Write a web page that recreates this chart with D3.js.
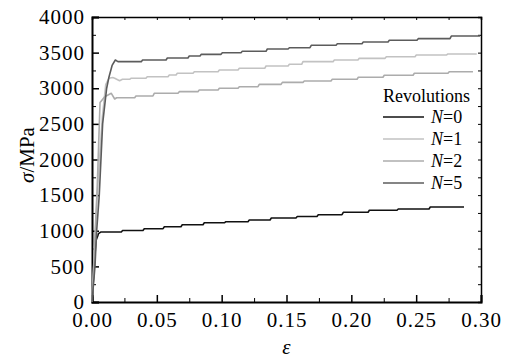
<!DOCTYPE html>
<html>
<head>
<meta charset="utf-8">
<script src="https://cdn.jsdelivr.net/npm/d3@7"></script>
<style>
  body { margin: 0; background: #fff; }
</style>
</head>
<body>
<div id="chart"></div>
<script>
// strain / stress points
const strainN0 = [0, 0.003, 0.0045, 0.005, 0.0067, 0.0226, 0.0236, 0.0393, 0.0403, 0.0548, 0.0558, 0.0686, 0.0696,
  0.0856, 0.0866, 0.1023, 0.1033, 0.1203, 0.1213, 0.1373, 0.1383, 0.1573, 0.1583, 0.1735, 0.1745, 0.1928, 0.1938,
  0.2129, 0.2139, 0.2352, 0.2362, 0.2599, 0.2609, 0.2869];
const stressN0 = [0, 860, 930, 960, 982, 982, 1004, 1004, 1029, 1029, 1057, 1057, 1085,
  1085, 1113, 1113, 1127, 1127, 1151, 1151, 1179, 1179, 1200, 1200, 1225, 1225, 1259,
  1259, 1287, 1287, 1305, 1305, 1333, 1333];

const strainN1 = [0, 0.004, 0.008, 0.0106, 0.013, 0.016, 0.0175, 0.0213, 0.0235, 0.029, 0.030, 0.0416, 0.0426,
  0.0586, 0.0596, 0.0648, 0.0658, 0.0779, 0.0789, 0.0972, 0.0982, 0.1126, 0.1136, 0.1332, 0.1342, 0.1512, 0.1522,
  0.1617, 0.1627, 0.1859, 0.1869, 0.2051, 0.2061, 0.226, 0.227, 0.2491, 0.2501, 0.2735, 0.2745, 0.2967];
const stressN1 = [0, 1500, 2600, 3050, 3140, 3150, 3140, 3106, 3126, 3126, 3140, 3140, 3162,
  3162, 3186, 3186, 3210, 3210, 3232, 3232, 3256, 3256, 3280, 3280, 3312, 3312, 3336,
  3336, 3373, 3373, 3396, 3396, 3420, 3420, 3443, 3443, 3467, 3467, 3481, 3481];

const strainN2 = [0, 0.004, 0.0062, 0.0098, 0.0149, 0.0175, 0.019, 0.0329, 0.0339, 0.047, 0.048, 0.0663, 0.0673,
  0.0817, 0.0827, 0.0972, 0.0982, 0.1126, 0.1136, 0.128, 0.129, 0.1458, 0.1468, 0.1627, 0.1637, 0.1843, 0.1853,
  0.2044, 0.2054, 0.2244, 0.2254, 0.2476, 0.2486, 0.2745, 0.2755, 0.2938];
const stressN2 = [0, 1600, 2800, 2881, 2929, 2849, 2867, 2867, 2891, 2891, 2929, 2929, 2952,
  2952, 2975, 2975, 2999, 2999, 3022, 3022, 3055, 3055, 3083, 3083, 3102, 3102, 3126,
  3126, 3154, 3154, 3182, 3182, 3210, 3210, 3232, 3232];

const strainN5 = [0, 0.0023, 0.0036, 0.0056, 0.0082, 0.0113, 0.013, 0.0155, 0.018, 0.020, 0.038, 0.039, 0.0571,
  0.0581, 0.074, 0.075, 0.0833, 0.0843, 0.0995, 0.1005, 0.1149, 0.1159, 0.1342, 0.1352, 0.1512, 0.1522, 0.1681,
  0.1691, 0.1882, 0.1892, 0.2082, 0.2092, 0.2283, 0.2293, 0.2506, 0.2516, 0.2761, 0.2771, 0.2992];
const stressN5 = [0, 500, 1000, 1500, 2500, 3000, 3150, 3320, 3396, 3373, 3373, 3396, 3396,
  3425, 3425, 3453, 3453, 3476, 3476, 3499, 3499, 3519, 3519, 3551, 3551, 3569, 3569,
  3603, 3603, 3625, 3625, 3649, 3649, 3673, 3673, 3696, 3696, 3733, 3733];

const seriesNames = ['N=0', 'N=1', 'N=2', 'N=5'];
const seriesColors = ['#111111', '#c2c2c2', '#acacac', '#5c5c5c'];
const xTicks = [0, 0.05, 0.10, 0.15, 0.20, 0.25, 0.30];
const yTicks = [0, 500, 1000, 1500, 2000, 2500, 3000, 3500, 4000];

const FONT = 'Liberation Serif';
const width = 512, height = 361;
const margin = { left: 92, right: 31, top: 17, bottom: 59 };

const svg = d3.select('#chart').append('svg')
  .attr('width', width)
  .attr('height', height);

const x = d3.scaleLinear().domain([0, 0.3]).range([margin.left, width - margin.right]);
const y = d3.scaleLinear().domain([0, 4000]).range([height - margin.bottom, margin.top]);

const minorX = d3.range(0.025, 0.3, 0.05);
const minorY = d3.range(250, 4000, 500);

// frame: top and right
svg.append('g')
  .attr('transform', `translate(0,${margin.top})`)
  .call(d3.axisTop(x).tickValues(xTicks.concat(minorX)).tickSize(-3).tickFormat(''))
  .call(g => g.select('.domain').attr('stroke-width', 1.5));
svg.append('g')
  .attr('transform', `translate(${width - margin.right},0)`)
  .call(d3.axisRight(y).tickValues(yTicks.concat(minorY)).tickSize(-3).tickFormat(''))
  .call(g => g.select('.domain').attr('stroke-width', 1.5));

// bottom axis
svg.append('g')
  .attr('transform', `translate(0,${height - margin.bottom})`)
  .call(d3.axisBottom(x).tickValues(minorX).tickSize(-4).tickFormat(''))
  .call(g => g.select('.domain').remove());
svg.append('g')
  .attr('transform', `translate(0,${height - margin.bottom})`)
  .call(d3.axisBottom(x).tickValues(xTicks).tickSize(-7).tickPadding(10).tickFormat(d3.format('.2f')))
  .call(g => g.select('.domain').attr('stroke-width', 2))
  .call(g => g.selectAll('line').attr('stroke-width', 1.5))
  .call(g => g.selectAll('text').attr('font-size', 21).attr('letter-spacing', 1));

// left axis
svg.append('g')
  .attr('transform', `translate(${margin.left},0)`)
  .call(d3.axisLeft(y).tickValues(minorY).tickSize(-4).tickFormat(''))
  .call(g => g.select('.domain').remove());
svg.append('g')
  .attr('transform', `translate(${margin.left},0)`)
  .call(d3.axisLeft(y).tickValues(yTicks).tickSize(-7).tickPadding(7).tickFormat(d3.format('d')))
  .call(g => g.select('.domain').attr('stroke-width', 2))
  .call(g => g.selectAll('line').attr('stroke-width', 1.5))
  .call(g => g.selectAll('text').attr('font-size', 21).attr('letter-spacing', 1));

// axis titles
const yTitle = svg.append('text')
  .attr('transform', 'translate(34,155) rotate(-90)')
  .attr('text-anchor', 'middle')
  .attr('font-size', 21);
yTitle.append('tspan').attr('font-style', 'italic').text('σ');
yTitle.append('tspan').text('/MPa');

svg.append('text')
  .attr('x', (x(0) + x(0.3)) / 2)
  .attr('y', 354)
  .attr('text-anchor', 'middle')
  .attr('font-size', 21)
  .attr('font-style', 'italic')
  .text('ε');

// curves
const series = [
  d3.zip(strainN0, stressN0),
  d3.zip(strainN1, stressN1),
  d3.zip(strainN2, stressN2),
  d3.zip(strainN5, stressN5)
];

const line = d3.line().x(d => x(d[0])).y(d => y(d[1]));

svg.selectAll('.curve')
  .data(series)
  .enter().append('path')
  .attr('class', 'curve')
  .attr('fill', 'none')
  .attr('stroke', (d, i) => seriesColors[i])
  .attr('stroke-width', 1.6)
  .attr('stroke-linejoin', 'round')
  .attr('d', line);

// legend
const legend = svg.append('g');
legend.append('text')
  .attr('x', 383)
  .attr('y', 102)
  .attr('font-size', 18)
  .text('Revolutions');

const item = legend.selectAll('.item')
  .data(seriesNames)
  .enter().append('g')
  .attr('class', 'item')
  .attr('transform', (d, i) => `translate(0,${117 + i * 22})`);

item.append('line')
  .attr('x1', 383)
  .attr('x2', 424)
  .attr('stroke', (d, i) => seriesColors[i])
  .attr('stroke-width', 1.6);

const label = item.append('text')
  .attr('x', 431)
  .attr('y', 6)
  .attr('font-size', 18);
label.append('tspan').attr('font-style', 'italic').text('N');
label.append('tspan').text(d => '=' + d.split('=')[1]);

// serif everywhere
svg.selectAll('text').attr('font-family', FONT).style('font-family', FONT);
</script>
</body>
</html>
